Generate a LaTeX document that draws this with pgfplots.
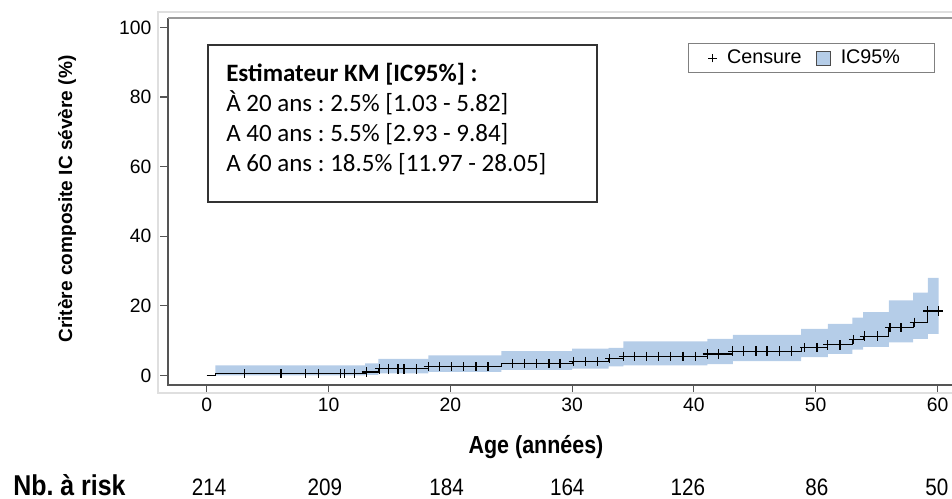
\documentclass[border=0pt]{standalone}
\usepackage{graphicx}
\usepackage{pgfplots}
\pgfplotsset{compat=1.18}
\usepgfplotslibrary{fillbetween}
\usepackage{fontspec}
\setmainfont{Liberation Sans}
\newfontfamily\calibri{Carlito}
\definecolor{bandblue}{HTML}{B5CDE8}
\definecolor{spine}{HTML}{555555}
\newcommand{\cond}[1]{\scalebox{0.87}[1]{#1}}

\begin{document}
\frenchspacing
\begin{tikzpicture}
\begin{axis}[
    name=ax, at={(0,0)}, anchor=south west,
    scale only axis, width=588pt, height=275.25pt,
    xmin=-3.18, xmax=61.19, ymin=-2.73, ymax=102.7,
    xtick={0,10,...,60}, ytick={0,20,...,100},
    xtick pos=bottom, ytick pos=left,
    tick align=outside, major tick length=6pt,
    tick style={spine, line width=0.8pt},
    axis line style={draw=none},
    /pgf/number format/assume math mode=true,
    ticklabel style={font=\fontsize{14.5}{16}\selectfont},
    yticklabel style={xshift=-3pt},
    clip=false,
    legend style={at={(0.6633,0.932)}, anchor=north west,
        draw=gray, line width=0.6pt, fill=white,
        font=\fontsize{14.8}{16}\selectfont,
        inner xsep=14pt, inner ysep=1.5pt,
        nodes={inner ysep=3.5pt}},
    legend columns=2,
    legend cell align=left,
    /tikz/every even column/.append style={column sep=9pt},
]
\addlegendimage{legend image code/.code={%
    \path[draw=none, fill=none] (0pt,0pt) rectangle (13pt,0pt);
    \draw[black, line width=0.6pt] (4pt,-3.3pt)--(4pt,3.3pt) (0.7pt,0pt)--(7.3pt,0pt);}}
\addlegendentry{Censure}
\addlegendimage{legend image code/.code={%
    \path[draw=none, fill=none] (0pt,0pt) rectangle (16pt,0pt);
    \draw[fill=bandblue, draw=black!70, line width=0.6pt] (0pt,-5.25pt) rectangle (10.5pt,5.25pt);}}
\addlegendentry{\makebox[54pt][l]{IC95\%}}

% bornes de l'IC95%
\addplot[name path=hi, const plot, draw=none, forget plot] coordinates {
    (0.7,2.9) (13.0,3.5) (14.1,4.8) (18.2,5.8) (24.2,7.0) (30.0,7.7)
    (33.0,7.9) (34.2,9.8) (41.1,10.5) (43.2,11.7) (48.8,13.4) (51.0,14.8)
    (53.0,16.6) (53.9,18.2) (56.0,21.6) (58.0,23.8) (59.2,28.05) (60.1,28.05)
};
\addplot[name path=lo, const plot, draw=none, forget plot] coordinates {
    (0.7,0.07) (13.0,0.15) (14.1,0.6) (18.2,1.03) (24.2,1.6) (30.0,2.0)
    (33.0,2.6) (34.2,2.93) (41.1,3.3) (43.2,4.1) (48.8,5.3) (51.0,6.2)
    (53.0,7.4) (53.9,8.2) (56.0,9.5) (58.0,10.5) (59.2,11.97) (60.1,11.97)
};
\addplot[bandblue, forget plot] fill between[of=hi and lo];

% courbe KM
\addplot[const plot, black, line width=0.9pt, forget plot] coordinates {
    (0,0) (0.7,0.5) (13.0,1.0) (14.1,1.9) (18.2,2.5) (24.2,3.4) (30.0,4.0)
    (33.0,4.8) (34.2,5.5) (41.1,6.2) (43.2,7.0) (48.8,8.0) (51.0,8.8)
    (53.0,10.3) (53.9,11.3) (56.0,13.7) (58.0,15.3) (59.2,18.5) (60.1,18.5)
};

% censures
\addplot[only marks, mark=+, mark size=3.5pt, black, line width=0.9pt, forget plot] coordinates {
    (3.1,0.5) (6.1,0.5) (8.1,0.5) (9.2,0.5) (11.0,0.5) (11.3,0.5) (12.1,0.5)
    (13.1,1.0) (14.2,1.9) (14.9,1.9) (15.7,1.9) (16.2,1.9) (17.2,1.9)
    (18.2,2.5) (19.1,2.5) (20.1,2.5) (21.1,2.5) (22.1,2.5) (23.1,2.5)
    (25.1,3.4) (26.1,3.4) (27.1,3.4) (28.1,3.4) (29.0,3.4)
    (30.1,4.0) (31.1,4.0) (32.1,4.0) (33.1,4.8)
    (34.2,5.5) (35.1,5.5) (36.1,5.5) (37.1,5.5) (38.1,5.5) (39.1,5.5) (40.1,5.5)
    (41.1,6.2) (42.0,6.2) (43.2,7.0) (44.1,7.0) (45.1,7.0) (46.0,7.0)
    (47.0,7.0) (48.0,7.0) (49.1,8.0) (50.1,8.0) (51.0,8.8) (52.0,8.8)
    (53.1,10.3) (54.0,11.3) (55.1,11.3) (56.1,13.7) (57.0,13.7)
    (58.1,15.3) (59.2,18.5) (60.1,18.5)
};

% axes
\draw[spine, line width=1pt] (rel axis cs:0,1) -- (rel axis cs:0,0) -- (rel axis cs:1,0);
\draw[gray!80, line width=0.8pt] (rel axis cs:0,1) -- (rel axis cs:1,1);

% effectifs a risque
\begin{scope}[every node/.style={anchor=base, inner sep=0pt}, font=\fontsize{17.8}{19}\selectfont]
\node at (axis cs:0.2,-34.5) {\cond{214}};
\node at (axis cs:9.7,-34.5) {\cond{209}};
\node at (axis cs:19.7,-34.5) {\cond{184}};
\node at (axis cs:29.6,-34.5) {\cond{164}};
\node at (axis cs:39.5,-34.5) {\cond{126}};
\node at (axis cs:50.1,-34.5) {\cond{86}};
\node at (axis cs:59.95,-34.5) {\cond{50}};
\end{scope}
\end{axis}

% cadre exterieur clair
\draw[gray!25, line width=0.8pt] (588pt,-6pt) -- (-7.5pt,-6pt) -- (-7.5pt,279.75pt) -- (588pt,279.75pt);

% titres des axes
\node[rotate=90, font=\bfseries\fontsize{14.3}{16}\selectfont] at (-75.75pt,139.5pt) {Critère composite IC sévère (\%)};
\node[font=\bfseries\fontsize{18.5}{20}\selectfont] at (276pt,-46.5pt) {\cond{Age (années)}};
\node[anchor=base west, inner sep=0pt, font=\bfseries\fontsize{21.5}{23}\selectfont] at (-116.25pt,-82.5pt) {\cond{Nb. à risk}};

% encadre des estimations
\draw[black!80, fill=white, line width=1.1pt] (30pt,137.25pt) rectangle (321.75pt,255pt);
\begin{scope}[every node/.style={anchor=base west, inner sep=0pt}, font=\calibri\fontsize{18.75}{22}\selectfont]
\node at (43.5pt,227.25pt) {\bfseries Estimateur KM [IC95\%] :};
\node at (43.5pt,204.75pt) {À 20 ans : 2.5\% [1.03 - 5.82]};
\node at (43.5pt,182.25pt) {A 40 ans : 5.5\% [2.93 - 9.84]};
\node at (43.5pt,159.75pt) {A 60 ans : 18.5\% [11.97 - 28.05]};
\end{scope}

\pgfresetboundingbox
\useasboundingbox (-126pt,-85.5pt) rectangle (588pt,288.75pt);
\end{tikzpicture}
\end{document}
